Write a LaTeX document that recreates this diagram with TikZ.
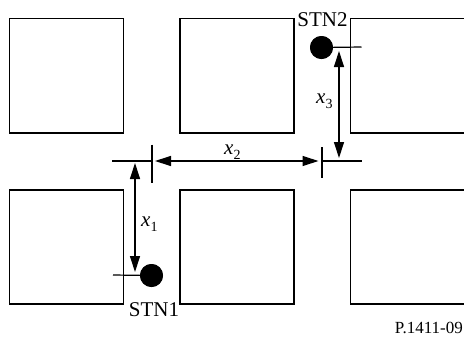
\documentclass[tikz,border=0pt]{standalone}
\usepackage{fontspec}
\setmainfont{Liberation Serif}
\usetikzlibrary{arrows.meta}
\tikzset{
  blk/.style={draw=black, line width=1.6pt, fill=white, inner sep=0pt, outer sep=0pt,
    minimum width=114pt, minimum height=114.5pt, anchor=north west},
  stdot/.style={circle, fill=black, inner sep=0pt, minimum size=23pt},
  thin/.style={line width=1.2pt},
  dim/.style={line width=1.2pt, {Triangle[length=16pt,width=10pt]}-{Triangle[length=16pt,width=10pt]}},
  lab/.style={font=\fontsize{21}{24}\selectfont, inner sep=0pt, anchor=base},
  fig/.style={font=\fontsize{17}{20}\selectfont, inner sep=0pt, anchor=base east}
}
\newcommand{\varlab}[1]{\textit{x}\raisebox{-0.25em}{\fontsize{14}{14}\selectfont #1}}
\begin{document}
\begin{tikzpicture}[x=1pt,y=-1pt]
\useasboundingbox (0,0) rectangle (464,338);
% blocks
\node[blk] (b11) at (9.5,18.3) {};
\node[blk] (b12) at (180,18.3) {};
\node[blk] (b13) at (350.3,18.3) {};
\node[blk] (b21) at (9.5,189.7) {};
\node[blk] (b22) at (180,189.7) {};
\node[blk] (b23) at (350.3,189.7) {};
% coordinates
\coordinate (s2r) at (361.5,47);
\coordinate (a3t) at (339,51);
\coordinate (a3b) at (339,158);
\coordinate (h2l) at (322,161);
\coordinate (h2r) at (361.5,161);
\coordinate (t2t) at (322,147);
\coordinate (t2b) at (322,178);
\coordinate (a2l) at (155,161);
\coordinate (a2r) at (318.5,161);
\coordinate (t1t) at (152,144.5);
\coordinate (t1b) at (152,183);
\coordinate (h1l) at (112,161);
\coordinate (h1r) at (152,161);
\coordinate (a1t) at (135,163);
\coordinate (a1b) at (135,272);
\coordinate (s1l) at (113,275);
% connectors
\node[stdot] (stn2) at (321.5,47.5) {};
\node[stdot] (stn1) at (151.5,275.5) {};
\draw[thin] (stn2.center) -- (s2r);
\draw[thin] (s1l) -- (stn1.center);
\node[stdot] at (stn2.center) {};
\node[stdot] at (stn1.center) {};
\draw[dim] (a3t) -- (a3b);
\draw[thin] (h2l) -- (h2r);
\draw[thin] (t2t) -- (t2b);
\draw[dim] (a2l) -- (a2r);
\draw[thin] (t1t) -- (t1b);
\draw[thin] (h1l) -- (h1r);
\draw[dim] (a1t) -- (a1b);
% labels
\node[lab] (l2) at (322.5,26.5) {STN2};
\node[lab] (l1) at (154,316.5) {STN1};
\node[lab, anchor=base west] (x2) at (224,154) {\varlab{2}};
\node[lab, anchor=base west] (x3) at (316,103) {\varlab{3}};
\node[lab, anchor=base west] (x1) at (141,226) {\varlab{1}};
\node[fig] (fg) at (463,333.5) {P.1411-09};
\end{tikzpicture}
\end{document}
